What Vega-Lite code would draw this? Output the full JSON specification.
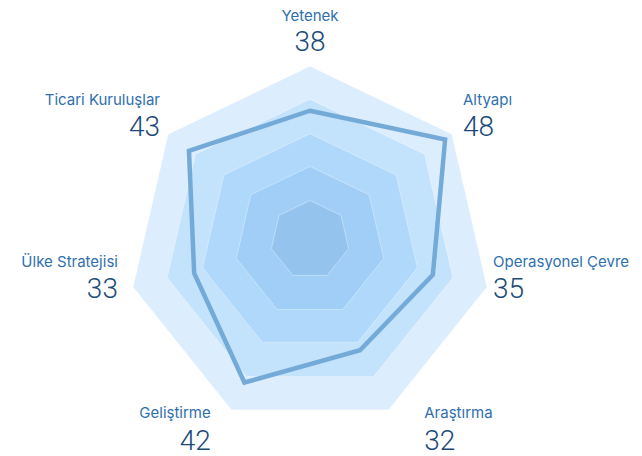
{
  "$schema": "https://vega.github.io/schema/vega-lite/v6.json",
  "width": 642,
  "height": 456,
  "autosize": {"type": "fit", "contains": "padding"},
  "padding": 0,
  "config": {"view": {"stroke": null}},
  "datasets": {
    "rings": [
      {"ring": "r5", "level": 50.4, "k": [0, 1, 2, 3, 4, 5, 6]},
      {"ring": "r4", "level": 40.7, "k": [0, 1, 2, 3, 4, 5, 6]},
      {"ring": "r3", "level": 30.6, "k": [0, 1, 2, 3, 4, 5, 6]},
      {"ring": "r2", "level": 21, "k": [0, 1, 2, 3, 4, 5, 6]},
      {"ring": "r1", "level": 11, "k": [0, 1, 2, 3, 4, 5, 6]}
    ],
    "scores": [
      {"axis": "Yetenek", "k": 0, "value": 38},
      {"axis": "Altyapı", "k": 1, "value": 48},
      {"axis": "Operasyonel Çevre", "k": 2, "value": 35},
      {"axis": "Araştırma", "k": 3, "value": 32},
      {"axis": "Geliştirme", "k": 4, "value": 42},
      {"axis": "Ülke Stratejisi", "k": 5, "value": 33},
      {"axis": "Ticari Kuruluşlar", "k": 6, "value": 43}
    ]
  },
  "data": {"name": "scores"},
  "transform": [
    {"calculate": "datum.k * 2 * PI / 7", "as": "a"},
    {"calculate": "datum.value * sin(datum.a)", "as": "px"},
    {"calculate": "datum.value * cos(datum.a)", "as": "py"},
    {"calculate": "53.3 * sin(datum.a)", "as": "lx"},
    {"calculate": "53.3 * cos(datum.a)", "as": "ly"}
  ],
  "layer": [
    {
      "data": {"name": "rings"},
      "transform": [
        {"flatten": ["k"]},
        {"calculate": "datum.k * 2 * PI / 7", "as": "a"},
        {"calculate": "datum.level * sin(datum.a)", "as": "px"},
        {"calculate": "datum.level * cos(datum.a) + 0.0495 * (50.4 - datum.level)", "as": "py"}
      ],
      "mark": {"type": "line", "interpolate": "linear-closed", "stroke": "#ffffff", "strokeOpacity": 0.35, "strokeWidth": 1},
      "encoding": {
        "x": {"field": "px", "type": "quantitative", "scale": {"domain": [-86.11, 92.22], "nice": false, "zero": false}, "axis": null},
        "y": {"field": "py", "type": "quantitative", "scale": {"domain": [-57.78, 68.89], "nice": false, "zero": false}, "axis": null},
        "fill": {"field": "ring", "type": "nominal", "scale": {"domain": ["r5", "r4", "r3", "r2", "r1"], "range": ["#dcedfd", "#c3e2fc", "#afd8fb", "#a0cef7", "#94c4ee"]}, "legend": null},
        "order": {"field": "k", "type": "quantitative"}
      }
    },
    {
      "mark": {"type": "line", "interpolate": "linear-closed", "color": "#74aad8", "strokeWidth": 4.5, "strokeJoin": "miter"},
      "encoding": {
        "x": {"field": "px", "type": "quantitative"},
        "y": {"field": "py", "type": "quantitative"},
        "order": {"field": "k", "type": "quantitative"}
      }
    },
    {
      "transform": [{"filter": "datum.k == 0"}],
      "layer": [
        {"mark": {"type": "text", "align": "center", "baseline": "alphabetic", "dy": -35, "font": "Inter", "fontSize": 15, "color": "#2f6fae"},
         "encoding": {"x": {"field": "lx", "type": "quantitative"}, "y": {"field": "ly", "type": "quantitative"}, "text": {"field": "axis"}}},
        {"mark": {"type": "text", "align": "center", "baseline": "alphabetic", "dy": -5, "font": "Roboto", "fontWeight": 300, "fontSize": 28, "color": "#1b4a7a"},
         "encoding": {"x": {"field": "lx", "type": "quantitative"}, "y": {"field": "ly", "type": "quantitative"}, "text": {"field": "value", "type": "quantitative"}}}
      ]
    },
    {
      "transform": [{"filter": "datum.k == 1"}],
      "layer": [
        {"mark": {"type": "text", "align": "left", "baseline": "alphabetic", "dx": 3, "dy": -23, "font": "Inter", "fontSize": 15, "color": "#2f6fae"},
         "encoding": {"x": {"field": "lx", "type": "quantitative"}, "y": {"field": "ly", "type": "quantitative"}, "text": {"field": "axis"}}},
        {"mark": {"type": "text", "align": "left", "baseline": "alphabetic", "dx": 3, "dy": 8, "font": "Roboto", "fontWeight": 300, "fontSize": 28, "color": "#1b4a7a"},
         "encoding": {"x": {"field": "lx", "type": "quantitative"}, "y": {"field": "ly", "type": "quantitative"}, "text": {"field": "value", "type": "quantitative"}}}
      ]
    },
    {
      "transform": [{"filter": "datum.k == 2"}],
      "layer": [
        {"mark": {"type": "text", "align": "left", "baseline": "alphabetic", "dx": -4, "dy": -22, "font": "Inter", "fontSize": 15, "color": "#2f6fae"},
         "encoding": {"x": {"field": "lx", "type": "quantitative"}, "y": {"field": "ly", "type": "quantitative"}, "text": {"field": "axis"}}},
        {"mark": {"type": "text", "align": "left", "baseline": "alphabetic", "dx": -4, "dy": 9, "font": "Roboto", "fontWeight": 300, "fontSize": 28, "color": "#1b4a7a"},
         "encoding": {"x": {"field": "lx", "type": "quantitative"}, "y": {"field": "ly", "type": "quantitative"}, "text": {"field": "value", "type": "quantitative"}}}
      ]
    },
    {
      "transform": [{"filter": "datum.k == 5"}],
      "layer": [
        {"mark": {"type": "text", "align": "right", "baseline": "alphabetic", "dx": -5, "dy": -22, "font": "Inter", "fontSize": 15, "color": "#2f6fae"},
         "encoding": {"x": {"field": "lx", "type": "quantitative"}, "y": {"field": "ly", "type": "quantitative"}, "text": {"field": "axis"}}},
        {"mark": {"type": "text", "align": "right", "baseline": "alphabetic", "dx": -5, "dy": 9, "font": "Roboto", "fontWeight": 300, "fontSize": 28, "color": "#1b4a7a"},
         "encoding": {"x": {"field": "lx", "type": "quantitative"}, "y": {"field": "ly", "type": "quantitative"}, "text": {"field": "value", "type": "quantitative"}}}
      ]
    },
    {
      "transform": [{"filter": "datum.k == 6"}],
      "layer": [
        {"mark": {"type": "text", "align": "right", "baseline": "alphabetic", "dx": 0, "dy": -23, "font": "Inter", "fontSize": 15, "color": "#2f6fae"},
         "encoding": {"x": {"field": "lx", "type": "quantitative"}, "y": {"field": "ly", "type": "quantitative"}, "text": {"field": "axis"}}},
        {"mark": {"type": "text", "align": "right", "baseline": "alphabetic", "dx": 0, "dy": 8, "font": "Roboto", "fontWeight": 300, "fontSize": 28, "color": "#1b4a7a"},
         "encoding": {"x": {"field": "lx", "type": "quantitative"}, "y": {"field": "ly", "type": "quantitative"}, "text": {"field": "value", "type": "quantitative"}}}
      ]
    },
    {
      "transform": [{"filter": "datum.k == 3"}],
      "layer": [
        {"mark": {"type": "text", "align": "left", "baseline": "alphabetic", "dx": 31, "dy": -1, "font": "Inter", "fontSize": 15, "color": "#2f6fae"},
         "encoding": {"x": {"field": "lx", "type": "quantitative"}, "y": {"field": "ly", "type": "quantitative"}, "text": {"field": "axis"}}},
        {"mark": {"type": "text", "align": "left", "baseline": "alphabetic", "dx": 31, "dy": 31, "font": "Roboto", "fontWeight": 300, "fontSize": 28, "color": "#1b4a7a"},
         "encoding": {"x": {"field": "lx", "type": "quantitative"}, "y": {"field": "ly", "type": "quantitative"}, "text": {"field": "value", "type": "quantitative"}}}
      ]
    },
    {
      "transform": [{"filter": "datum.k == 4"}],
      "layer": [
        {"mark": {"type": "text", "align": "right", "baseline": "alphabetic", "dx": -16, "dy": -1, "font": "Inter", "fontSize": 15, "color": "#2f6fae"},
         "encoding": {"x": {"field": "lx", "type": "quantitative"}, "y": {"field": "ly", "type": "quantitative"}, "text": {"field": "axis"}}},
        {"mark": {"type": "text", "align": "right", "baseline": "alphabetic", "dx": -16, "dy": 31, "font": "Roboto", "fontWeight": 300, "fontSize": 28, "color": "#1b4a7a"},
         "encoding": {"x": {"field": "lx", "type": "quantitative"}, "y": {"field": "ly", "type": "quantitative"}, "text": {"field": "value", "type": "quantitative"}}}
      ]
    }
  ]
}
